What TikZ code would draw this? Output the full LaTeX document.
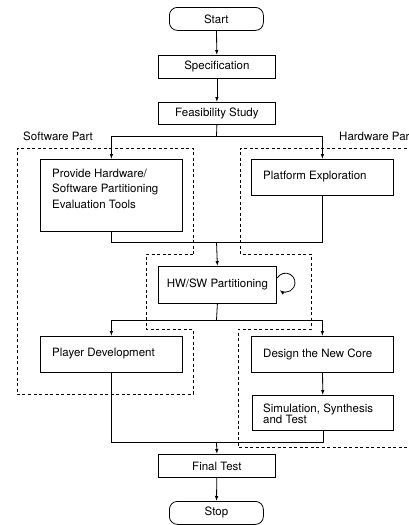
\documentclass[tikz,border=0pt]{standalone}
\usepackage{fontspec}
\setmainfont{TeX Gyre Heros}
\usetikzlibrary{arrows.meta}
\begin{document}
\begin{tikzpicture}[x=1pt,y=-1pt,
  font=\fontsize{11.5}{14}\selectfont,
  box/.style={draw, line width=0.8pt, inner sep=0pt, anchor=north west},
  term/.style={box, rounded corners=8pt},
  txt/.style={anchor=west, align=left, inner sep=0pt},
  conn/.style={line width=0.8pt},
  arr/.style={conn, -{Latex[length=5pt,width=3.5pt]}},
  region/.style={line width=0.8pt, dash pattern=on 3pt off 2.5pt}]
\useasboundingbox (0,0) rectangle (408,525);
% boxes
\node[term, minimum width=94pt, minimum height=23pt] (start) at (169,7) {Start};
\node[box, minimum width=117pt, minimum height=23pt] (spec) at (158,55) {Specification};
\node[box, minimum width=117pt, minimum height=22pt] (feas) at (158,102) {Feasibility Study};
\node[box, minimum width=142pt, minimum height=72pt] (provide) at (40,159) {};
\node[box, minimum width=142pt, minimum height=36pt] (platform) at (251,159) {};
\node[box, minimum width=118pt, minimum height=37pt] (hwsw) at (158,266) {HW/SW Partitioning};
\node[box, minimum width=142pt, minimum height=36pt] (player) at (40,336) {};
\node[box, minimum width=142pt, minimum height=36pt] (design) at (251,336) {};
\node[box, minimum width=141pt, minimum height=35pt] (sim) at (252,395) {};
\node[box, minimum width=117pt, minimum height=23pt] (final) at (158,454) {Final Test};
\node[term, minimum width=94pt, minimum height=23pt] (stop) at (169,501) {Stop};
% left-aligned texts
\node[txt, font=\fontsize{11.5}{15.5}\selectfont] (tprovide) at (52,188.5) {Provide Hardware/\\Software Partitioning\\Evaluation Tools};
\node[txt] (tplatform) at (263,177) {Platform Exploration};
\node[txt] (tplayer) at (52,354) {Player Development};
\node[txt] (tdesign) at (263,354) {Design the New Core};
\node[txt, font=\fontsize{11.5}{11}\selectfont] (tsim) at (263,413.5) {Simulation, Synthesis\\and Test};
% region labels
\node[anchor=west, inner sep=0pt] (swlabel) at (23,136) {Software Part};
\node[anchor=west, inner sep=0pt] (hwlabel) at (339,136) {Hardware Part};
% dashed regions
\draw[region] (193,254) -- (193,148) -- (17,148) -- (17,394) -- (193,394) -- (193,329) -- (146,329) -- (146,254) -- cycle;
\draw[region] (412,148) -- (240,148) -- (240,254) -- (311,254) -- (311,329) -- (238,329) -- (238,447) -- (412,447);
% connectors
\coordinate (s1) at (216.5,136);
\coordinate (m1) at (216.5,242);
\coordinate (s2) at (216.5,320);
\coordinate (m2) at (216.5,442);
\draw[arr] (start) -- (spec);
\draw[arr] (spec) -- (feas);
\draw[conn] (feas.south) -- (s1);
\draw[arr] (s1) -| (provide.north);
\draw[arr] (s1) -| (platform.north);
\draw[conn] (provide.south) |- (m1);
\draw[conn] (platform.south) |- (m1);
\draw[arr] (m1) -- (hwsw.north);
\draw[arr] ([xshift=0.5pt,yshift=7pt]hwsw.east) arc[start angle=210, end angle=488, radius=9.5];
\draw[conn] (hwsw.south) -- (s2);
\draw[arr] (s2) -| (player.north);
\draw[arr] (s2) -| (design.north);
\draw[arr] (design) -- (sim);
\draw[conn] (player.south) |- (m2);
\draw[conn] (sim.south) |- (m2);
\draw[arr] (m2) -- (final.north);
\draw[arr] (final) -- (stop);
\end{tikzpicture}
\end{document}
